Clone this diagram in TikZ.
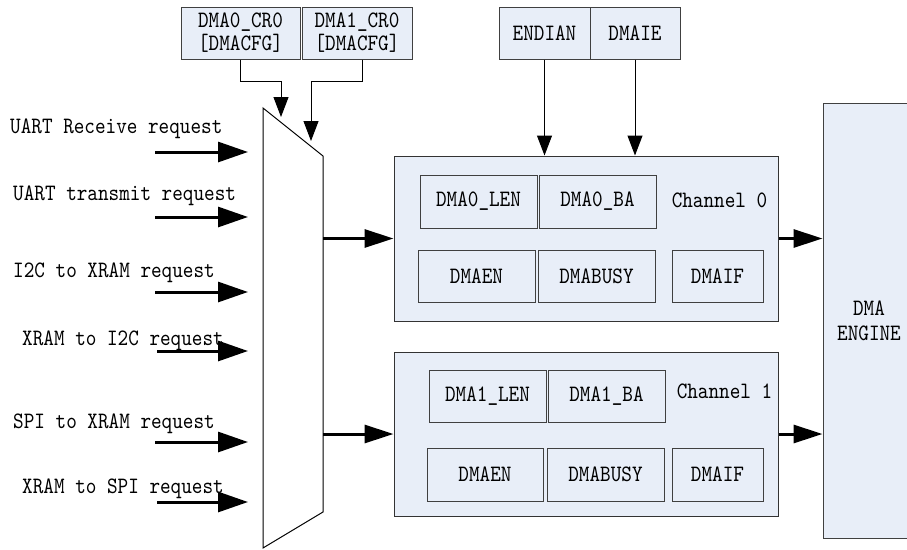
\documentclass[tikz,border=0pt]{standalone}
\usepackage{tikz}
\usepackage{fontspec}
\usetikzlibrary{arrows.meta}
\newfontfamily\regfont{lmmono10-regular.otf}[FakeStretch=0.86]
\definecolor{boxblue}{RGB}{232,238,248}

\begin{document}
\begin{tikzpicture}[x=1pt, y=-1pt,
  txt/.style = {font=\regfont\fontsize{23.5}{23}\selectfont},
  reg/.style = {txt, draw=black!75, fill=boxblue, line width=1pt, inner sep=0pt, align=center},
  chan/.style = {draw=black!80, fill=boxblue, line width=1pt, minimum width=384pt, inner sep=0pt},
  lbl/.style = {txt, inner sep=0pt, anchor=base west},
  inarrow/.style = {line width=3pt, -{Triangle[length=30pt,width=20pt]}},
  outarrow/.style = {line width=3pt, -{Triangle[length=29pt,width=18pt]}},
  cfgarrow/.style = {line width=1pt, -{Triangle[length=20pt,width=15pt]}}]
\useasboundingbox (0,0) rectangle (907,549); \clip (0,0) rectangle (907,549);
% configuration registers on top
\node[reg, minimum width=119pt, minimum height=52pt](cr0) at (240.5,33) {DMA0\_CR0\\{[DMACFG]}};
\node[reg, minimum width=110pt, minimum height=52pt](cr1) at (357,33) {DMA1\_CR0\\{[DMACFG]}};
\node[reg, minimum width=91pt, minimum height=52pt](endian) at (544.5,33) {ENDIAN};
\node[reg, minimum width=90pt, minimum height=52pt](dmaie) at (635,33) {DMAIE};
% request selector
\draw[line width=1pt] (263,108) coordinate (mtl) -- (323,156) coordinate (mtr) -- (323,512) coordinate (mbr) -- (263,548) coordinate (mbl) -- cycle;
\coordinate (s0) at (281,117); \coordinate (s1) at (311,141);
% channels
\node[chan, minimum height=165pt](ch0) at (586,238.5) {}; \node[chan, minimum height=164pt](ch1) at (586,434) {};
\node[reg, minimum width=92pt, minimum height=435pt, font=\regfont\fontsize{23.5}{25}\selectfont](eng) at (869,320.5) {DMA\\ENGINE};
\node[reg, minimum width=117pt, minimum height=53pt](len0) at (478.5,201.5) {DMA0\_LEN}; \node[reg, minimum width=117pt, minimum height=53pt](ba0) at (597.5,201.5) {DMA0\_BA};
\node[txt, inner sep=0pt](c0) at (719.5,200) {Channel 0};
\node[reg, minimum width=117pt, minimum height=52pt](en0) at (476.5,276) {DMAEN}; \node[reg, minimum width=117pt, minimum height=52pt](busy0) at (596.5,276) {DMABUSY};
\node[reg, minimum width=91pt, minimum height=52pt](if0) at (717.5,276) {DMAIF};
\node[reg, minimum width=117pt, minimum height=52pt](len1) at (487.5,396) {DMA1\_LEN}; \node[reg, minimum width=117pt, minimum height=52pt](ba1) at (606.5,396) {DMA1\_BA};
\node[txt, inner sep=0pt](c1) at (724.5,391) {Channel 1};
\node[reg, minimum width=116pt, minimum height=53pt](en1) at (485,474.5) {DMAEN}; \node[reg, minimum width=117pt, minimum height=53pt](busy1) at (605.5,474.5) {DMABUSY};
\node[reg, minimum width=91pt, minimum height=53pt](if1) at (717.5,474.5) {DMAIF};
% request labels
\node[lbl](q0) at (10,133) {UART Receive request}; \node[lbl](q1) at (13,200) {UART transmit request};
\node[lbl](q2) at (13,277) {I2C to XRAM request}; \node[lbl](q3) at (22,345) {XRAM to I2C request};
\node[lbl](q4) at (13,428) {SPI to XRAM request}; \node[lbl](q5) at (22,493) {XRAM to SPI request};
\coordinate (r0) at (248,152); \coordinate (r1) at (248,217); \coordinate (r2) at (248,292);
\coordinate (r3) at (248,351); \coordinate (r4) at (248,442); \coordinate (r5) at (248,502);
\draw[inarrow] ([xshift=-93pt]r0) -- (r0); \draw[inarrow] ([xshift=-93pt]r1) -- (r1); \draw[inarrow] ([xshift=-93pt]r2) -- (r2);
\draw[inarrow] ([xshift=-91pt]r3) -- (r3); \draw[inarrow] ([xshift=-93pt]r4) -- (r4); \draw[inarrow] ([xshift=-91pt]r5) -- (r5);
% connectors
\draw[cfgarrow] (cr0.south) -- ++(0,22) -| (s0); \draw[cfgarrow] ([xshift=5pt]cr1.south) -- ++(0,22) -| (s1);
\draw[cfgarrow] (endian.south) -- (endian.south |- ch0.north); \draw[cfgarrow] (dmaie.south) -- (dmaie.south |- ch0.north);
\draw[outarrow] (ch0.west -| mtr) -- (ch0.west); \draw[outarrow] (ch1.west -| mtr) -- (ch1.west);
\draw[outarrow] (ch0.east) -- (ch0.east -| eng.west); \draw[outarrow] (ch1.east) -- (ch1.east -| eng.west);
\end{tikzpicture}
\end{document}
